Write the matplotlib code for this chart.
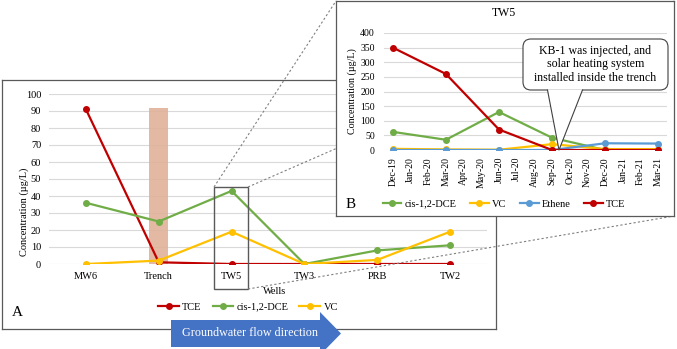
import numpy as np
import matplotlib
matplotlib.use("Agg")
import matplotlib.pyplot as plt
from matplotlib.patches import Rectangle, FancyBboxPatch, Polygon

plt.rcParams['font.family'] = ['Liberation Serif', 'DejaVu Serif']

# ---------------- data ----------------
wells = ['MW6', 'Trench', 'TW5', 'TW3', 'PRB', 'TW2']
tce_a = [91, 1, 0, 0, 0, 0]
cis_a = [36, 25, 43, 0, 8, 11]
vc_a = [0, 2, 19, 0, 2.4, 19]
trench_bar = 92

months = ['Dec-19', 'Jan-20', 'Feb-20', 'Mar-20', 'Apr-20', 'May-20', 'Jun-20',
          'Jul-20', 'Aug-20', 'Sep-20', 'Oct-20', 'Nov-20', 'Dec-20', 'Jan-21',
          'Feb-21', 'Mar-21']
sample_months = ['Dec-19', 'Mar-20', 'Jun-20', 'Sep-20', 'Dec-20', 'Mar-21']
cis_b = [62, 35, 130, 42, 0, 0]
vc_b = [4, 2, 1, 20, 3, 3]
ethene_b = [0, 0, 0, 0, 23, 22]
tce_b = [350, 260, 70, 0, 0, 0]

C_TCE = '#C00000'
C_CIS = '#70AD47'
C_VC = '#FFC000'
C_ETH = '#5B9BD5'
GRID = '#d9d9d9'
EDGE = '#595959'

W, H = 677, 349
fig = plt.figure(figsize=(W / 100, H / 100), dpi=100)


def frect(x0, y0, x1, y1):
    return [x0 / W, 1 - y1 / H, (x1 - x0) / W, (y1 - y0) / H]


def fp(x, y):
    return (x / W, 1 - y / H)


def frame_axes(rect, z):
    a = fig.add_axes(rect)
    a.set_xticks([])
    a.set_yticks([])
    for s in a.spines.values():
        s.set_color(EDGE)
        s.set_linewidth(0.9)
    a.set_facecolor('white')
    a.set_zorder(z)
    return a


# ---------------- panel A ----------------
frameA = frame_axes(frect(2, 80, 496, 329), 0)

ax = fig.add_axes(frect(49.5, 94, 486.5, 264))
ax.set_zorder(1)
ax.patch.set_visible(False)
xa = np.arange(len(wells))
ax.bar(xa[wells.index('Trench')], trench_bar, width=0.26, color='#e0b29a',
       alpha=0.9, zorder=1)
ax.plot(xa, tce_a, '-o', color=C_TCE, lw=1.6, ms=4, label='TCE', zorder=3)
ax.plot(xa, cis_a, '-o', color=C_CIS, lw=1.6, ms=4, label='cis-1,2-DCE', zorder=3)
ax.plot(xa, vc_a, '-o', color=C_VC, lw=1.6, ms=4, label='VC', zorder=3)
ax.set_xlim(-0.5, len(wells) - 0.5)
ax.set_ylim(0, 100)
ax.set_yticks(np.arange(0, 101, 10))
ax.set_xticks(xa)
ax.set_xticklabels(wells)
ax.tick_params(length=0, labelsize=7.5)
ax.tick_params(axis='x', pad=6)
ax.tick_params(axis='y', pad=6)
for s in ax.spines.values():
    s.set_visible(False)
ax.grid(axis='y', color=GRID, lw=0.8, zorder=0)
ax.set_axisbelow(True)
ax.set_xlabel('Wells', fontsize=7.5)
ax.xaxis.set_label_coords(0.516, -0.135)
ax.set_ylabel('Concentration (µg/L)', fontsize=7.5)
ax.yaxis.set_label_coords(-0.047, 0.306)
# box around TW5
i5 = wells.index('TW5')
ax.add_patch(Rectangle((i5 - 0.247, -14.7), 0.467, 60.0, fill=False,
                       edgecolor=EDGE, lw=1.0, clip_on=False, zorder=5))
ax.legend(loc='center', bbox_to_anchor=fp(248, 307), bbox_transform=fig.transFigure,
          ncol=3, frameon=False, fontsize=7.5, handlelength=2.0,
          handletextpad=0.3, columnspacing=1.05, borderpad=0)

# connector lines (below inset box)
low = fig.add_axes([0, 0, 1, 1])
low.set_zorder(3)
low.set_xlim(0, W)
low.set_ylim(H, 0)
low.axis('off')
for (x0, y0), (x1, y1) in [((214, 187), (336, 1)), ((248, 187), (674, 1)),
                           ((248, 289), (674, 216))]:
    low.plot([x0, x1], [y0, y1], color='#808080', lw=0.8, ls=(0, (2, 2)))

# ---------------- panel B ----------------
frameB = frame_axes(frect(336, 1, 674, 216), 5)

bx = fig.add_axes(frect(384, 33, 667, 150))
bx.set_zorder(6)
bx.patch.set_visible(False)
xb = [months.index(m) for m in sample_months]
bx.plot(xb, cis_b, '-o', color=C_CIS, lw=1.6, ms=4, label='cis-1,2-DCE')
bx.plot(xb, vc_b, '-o', color=C_VC, lw=1.6, ms=4, label='VC')
bx.plot(xb, ethene_b, '-o', color=C_ETH, lw=1.6, ms=4, label='Ethene')
bx.plot(xb, tce_b, '-o', color=C_TCE, lw=1.6, ms=4, label='TCE')
bx.set_xlim(-0.5, len(months) - 0.5)
bx.set_ylim(0, 400)
bx.set_yticks(np.arange(0, 401, 50))
bx.set_xticks(np.arange(len(months)))
bx.set_xticklabels(months, rotation=90)
bx.tick_params(length=0, labelsize=7)
bx.tick_params(axis='x', pad=5, labelsize=7)
bx.tick_params(axis='y', pad=6.5)
for s in bx.spines.values():
    s.set_visible(False)
bx.grid(axis='y', color=GRID, lw=0.8)
bx.set_axisbelow(True)
bx.set_ylabel('Concentration (µg/L)', fontsize=7.2)
bx.yaxis.set_label_coords(-0.095, 0.5)
bx.legend(loc='center', bbox_to_anchor=fp(504, 204), bbox_transform=fig.transFigure,
          ncol=4, frameon=False, fontsize=7.5, handlelength=1.8,
          handletextpad=0.3, columnspacing=1.3, borderpad=0)

# ---------------- overlay (text, callout, arrow) ----------------
top = fig.add_axes([0, 0, 1, 1])
top.set_zorder(10)
top.set_xlim(0, W)
top.set_ylim(H, 0)
top.axis('off')

top.text(504, 13, 'TW5', ha='center', va='center', fontsize=8.5)
top.text(17, 313, 'A', ha='center', va='center', fontsize=11)
top.text(351, 204, 'B', ha='center', va='center', fontsize=11)

# callout
top.add_patch(FancyBboxPatch((523, 39), 145, 51,
                             boxstyle='round,pad=0,rounding_size=8',
                             fc='white', ec='#404040', lw=0.8))
top.add_patch(Polygon([(547.6, 89.3), (559, 150), (582.4, 89.3)], closed=True,
                      fc='white', ec='none'))
top.plot([547.5, 559, 582.5], [90, 150, 90], color='#404040', lw=0.8)
top.text(595.5, 64.5, 'KB-1 was injected, and\nsolar heating system\ninstalled inside the trench',
         ha='center', va='center', fontsize=8.6, linespacing=1.22)

# flow arrow
top.add_patch(Polygon([(171, 320), (320, 320), (320, 312), (341, 333.5),
                       (320, 355), (320, 347), (171, 347)], closed=True,
                      fc='#4472C4', ec='none', clip_on=False))
top.text(250, 333.5, 'Groundwater flow direction', ha='center', va='center',
         fontsize=8.7, color='white')

fig.savefig('out.png', dpi=100)
